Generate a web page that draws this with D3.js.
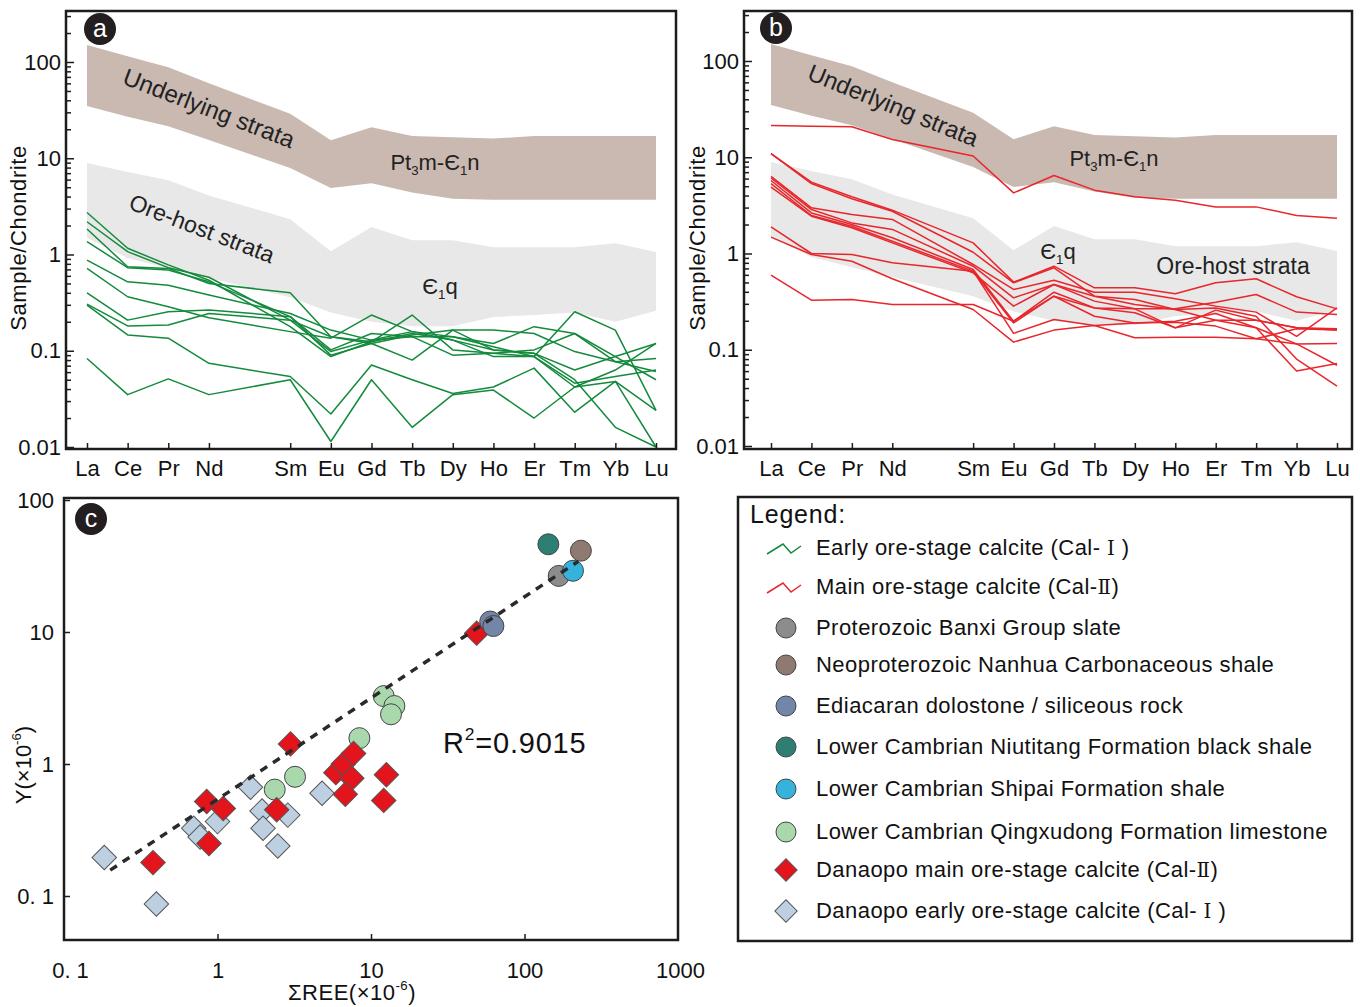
<!DOCTYPE html>
<html>
<head>
<meta charset="utf-8">
<script src="https://cdn.jsdelivr.net/npm/d3@7"></script>
<style>
body { margin: 0; background: #fff; }
svg { font-family: "Liberation Sans", Arial, sans-serif; }
</style>
</head>
<body>
<svg width="1360" height="1007"></svg>
<script>
// REE order (Pm kept as an empty slot on the axis)
var ree = ['La','Ce','Pr','Nd','Pm','Sm','Eu','Gd','Tb','Dy','Ho','Er','Tm','Yb','Lu'];
var reeUsed = ree.filter(function (d) { return d !== 'Pm'; });

// reference fields (chondrite normalised)
var underlyingTop = [150,115,88,60,29,15.4,21,17,16.5,16,17,17,17,17];
var underlyingBot = [35,27,21.5,15.5,7.9,4.9,5.5,4.4,3.8,3.7,3.7,3.7,3.7,3.7];
var hostTop = [8.9,7.2,5.9,4.1,2.33,1.08,1.93,1.41,1.41,1.19,1.19,1.19,1.31,1.06];
var hostBot = [1.48,0.92,0.72,0.57,0.36,0.25,0.2,0.18,0.18,0.224,0.235,0.25,0.2,0.26];

// Cal-I calcite profiles (panel a)
var calIProfiles = [
  [2.73,1.16,0.78,0.54,0.178,0.087,0.124,0.151,0.129,0.102,0.094,0.050,0.016,0.010],
  [2.19,1.07,0.73,0.58,0.208,0.098,0.129,0.158,0.14,0.11,0.087,0.042,0.063,0.119],
  [1.84,0.746,0.717,0.50,0.40,0.14,0.119,0.146,0.164,0.164,0.151,0.098,0.077,0.083],
  [1.36,0.73,0.69,0.52,0.226,0.102,0.151,0.14,0.09,0.094,0.102,0.151,0.087,0.05],
  [0.875,0.52,0.48,0.38,0.244,0.164,0.129,0.14,0.14,0.119,0.178,0.151,0.077,0.061],
  [0.717,0.364,0.287,0.22,0.158,0.135,0.235,0.158,0.129,0.087,0.087,0.254,0.164,0.024],
  [0.40,0.208,0.254,0.265,0.226,0.09,0.119,0.08,0.164,0.102,0.094,0.063,0.087,0.119],
  [0.305,0.181,0.185,0.244,0.208,0.14,0.124,0.235,0.102,0.094,0.087,0.046,0.054,0.063],
  [0.298,0.146,0.135,0.074,0.054,0.022,0.071,0.05,0.036,0.042,0.066,0.023,0.048,0.010],
  [0.083,0.035,0.051,0.035,0.05,0.0114,0.05,0.016,0.035,0.039,0.020,0.042,0.048,0.024]
];

// Cal-II calcite profiles (panel b)
var calIIProfiles = [
  [21.4,21,20.7,15.3,10.3,4.26,6.46,4.55,3.88,3.58,3.05,3.05,2.48,2.33],
  [10.9,5.51,3.88,2.82,1.29,0.504,0.738,0.44,0.44,0.381,0.496,0.546,0.355,0.266],
  [10.9,5.33,3.70,2.75,1.03,0.496,0.71,0.36,0.333,0.262,0.272,0.223,0.08,0.042],
  [6.35,2.98,2.54,2.26,0.769,0.423,0.528,0.396,0.396,0.338,0.284,0.246,0.138,0.272],
  [6.11,2.86,2.08,1.78,0.738,0.346,0.476,0.32,0.266,0.266,0.312,0.375,0.246,0.232],
  [5.73,2.64,2.0,1.46,0.682,0.198,0.396,0.272,0.242,0.169,0.258,0.203,0.169,0.165],
  [5.33,2.48,1.92,1.34,0.655,0.19,0.36,0.223,0.19,0.198,0.238,0.169,0.06,0.072],
  [4.89,2.44,1.85,1.29,0.629,0.284,0.476,0.36,0.295,0.262,0.203,0.169,0.115,0.069],
  [1.89,1.0,0.977,0.80,0.655,0.148,0.206,0.179,0.19,0.193,0.176,0.13,0.165,0.16],
  [1.48,0.977,0.832,0.546,0.262,0.12,0.16,0.179,0.133,0.135,0.135,0.13,0.115,0.116],
  [0.596,0.327,0.333,0.295,0.295,0.198,0.36,0.272,0.266,0.169,0.203,0.203,0.169,0.16]
];

// panel c: sum REE vs Y (x10^-6)
var calISumREE = [0.183,0.40,0.70,0.77,1.0,1.64,1.95,1.98,2.87,2.47,4.8];
var calIY      = [0.196,0.087,0.326,0.28,0.366,0.666,0.44,0.326,0.41,0.239,0.6];
var calIISumREE = [0.38,0.85,1.09,0.88,2.43,2.99,5.9,6.6,7.7,7.5,6.8,12.6,12.1,48.8];
var calIIY      = [0.179,0.52,0.46,0.25,0.45,1.42,0.86,1.0,1.2,0.78,0.59,0.83,0.53,9.8];
var qingxudongSumREE = [12.1,14.2,13.5,8.4,3.2,2.36];
var qingxudongY      = [3.27,2.75,2.38,1.57,0.80,0.64];
var banxiSumREE = [167], banxiY = [26.6];
var nanhuaSumREE = [233], nanhuaY = [41.3];
var ediacaranSumREE = [59.8,62.7], ediacaranY = [12,11.1];
var niutitangSumREE = [143], niutitangY = [46.2];
var shipaiSumREE = [207], shipaiY = [29.1];
var fitCoef = 0.54, fitExp = 0.767, fitRange = [0.2, 245];

var svg = d3.select('svg');
var frameColor = '#1c1c1c';

// text with sub/superscripts: parts = [{t}, {sub}, {sup}, {roman}]
function richText(t, parts, shift) {
  var cur = 0;
  parts.forEach(function (p) {
    var target = p.sub ? shift : (p.sup ? -shift * 1.6 : 0);
    var ts = t.append('tspan').attr('dy', target - cur);
    cur = target;
    if (p.sub || p.sup) ts.attr('font-size', '0.6em').text(p.sub || p.sup);
    else if (p.roman) ts.attr('font-family', '"DejaVu Serif", serif').attr('font-size', '0.9em').text(p.roman);
    else ts.text(p.t);
  });
}

function panelLetter(cx, cy, letter) {
  svg.append('circle').attr('cx', cx).attr('cy', cy).attr('r', 16).attr('fill', '#231f20');
  svg.append('text').attr('x', cx).attr('y', cy + 8).attr('text-anchor', 'middle')
    .attr('fill', '#fff').attr('font-size', 25).text(letter);
}

function reePanel(cfg) {
  var g = svg.append('g');
  var x = d3.scalePoint().domain(ree).range(cfg.xr);
  var y = d3.scaleLog().domain([0.01, 100]).range(cfg.yr);
  var band = function (hi, lo) {
    return reeUsed.map(function (el, i) { return {el: el, hi: hi[i], lo: lo[i]}; });
  };
  var area = d3.area().x(function (d) { return x(d.el); })
    .y0(function (d) { return y(d.lo); }).y1(function (d) { return y(d.hi); });
  g.append('path').datum(band(underlyingTop, underlyingBot)).attr('d', area).attr('fill', '#c9b9b1');
  g.append('path').datum(band(hostTop, hostBot)).attr('d', area).attr('fill', '#e8e8e8');

  // field labels
  var lab = cfg.labels;
  g.append('text').attr('transform', 'translate(' + lab.under[0] + ',' + lab.under[1] + ') rotate(' + lab.under[2] + ')')
    .attr('text-anchor', 'middle').attr('font-size', 24).attr('fill', '#222').text('Underlying strata');
  var t1 = g.append('text').attr('x', lab.pt[0]).attr('y', lab.pt[1]).attr('text-anchor', 'middle')
    .attr('font-size', 22).attr('fill', '#222');
  richText(t1, [{t: 'Pt'}, {sub: '3'}, {t: 'm-Є'}, {sub: '1'}, {t: 'n'}], 5);
  g.append('text').attr('transform', 'translate(' + lab.host[0] + ',' + lab.host[1] + ') rotate(' + lab.host[2] + ')')
    .attr('text-anchor', 'middle').attr('font-size', 23).attr('fill', '#222').text('Ore-host strata');
  var t2 = g.append('text').attr('x', lab.eq[0]).attr('y', lab.eq[1]).attr('text-anchor', 'middle')
    .attr('font-size', 22).attr('fill', '#222');
  richText(t2, [{t: 'Є'}, {sub: '1'}, {t: 'q'}], 5);

  var line = d3.line().x(function (d) { return x(d.el); }).y(function (d) { return y(d.v); });
  g.selectAll('.prof').data(cfg.profiles).enter().append('path')
    .attr('d', function (p) { return line(reeUsed.map(function (el, i) { return {el: el, v: p[i]}; })); })
    .attr('fill', 'none').attr('stroke', cfg.color).attr('stroke-width', 1.5).attr('stroke-linejoin', 'round');

  // frame
  g.append('rect').attr('x', cfg.box[0]).attr('y', cfg.box[1])
    .attr('width', cfg.box[2] - cfg.box[0]).attr('height', cfg.box[3] - cfg.box[1])
    .attr('fill', 'none').attr('stroke', frameColor).attr('stroke-width', 2.5);

  // y axis (log, inward ticks)
  var yt = [];
  [0.01, 0.1, 1, 10, 100].forEach(function (d) {
    for (var k = 1; k <= 9; k++) { if (d * k <= 300) yt.push(+(d * k).toPrecision(2)); }
  });
  var major = [0.01, 0.1, 1, 10, 100];
  var ya = g.append('g').attr('transform', 'translate(' + cfg.box[0] + ',0)')
    .call(d3.axisLeft(y).tickValues(yt).tickSizeInner(-8).tickSizeOuter(0).tickPadding(5)
      .tickFormat(function (d) { return major.indexOf(d) >= 0 ? String(d) : ''; }));
  ya.select('.domain').remove();
  ya.selectAll('.tick line').attr('stroke', frameColor).attr('stroke-width', 1.5)
    .attr('x2', function (d) { return major.indexOf(d) >= 0 ? 8 : 5; });
  ya.selectAll('.tick text').attr('font-size', 22).attr('fill', '#111').attr('font-family', null);

  // x axis
  var xa = g.append('g').attr('transform', 'translate(0,' + cfg.box[3] + ')')
    .call(d3.axisBottom(x).tickValues(reeUsed).tickSizeInner(-6).tickSizeOuter(0).tickPadding(11));
  xa.select('.domain').remove();
  xa.selectAll('.tick line').attr('stroke', frameColor).attr('stroke-width', 1.5);
  xa.selectAll('.tick text').attr('font-size', 22).attr('fill', '#111').attr('font-family', null);

  svg.append('text').attr('transform', 'translate(' + cfg.ylab[0] + ',' + cfg.ylab[1] + ') rotate(-90)')
    .attr('text-anchor', 'middle').attr('font-size', 22).attr('letter-spacing', 0.6)
    .attr('fill', '#111').text('Sample/Chondrite');
  panelLetter(cfg.letter[0], cfg.letter[1], cfg.letter[2]);
}

reePanel({
  box: [66, 11, 676, 449], xr: [87, 656], yr: [447, 62],
  profiles: calIProfiles, color: '#138a3c',
  labels: {under: [206, 116, 21], pt: [435, 170], host: [199, 236, 21], eq: [440, 294]},
  ylab: [26, 238], letter: [100, 29, 'a']
});
reePanel({
  box: [744, 11, 1352, 449], xr: [771, 1337], yr: [446, 61],
  profiles: calIIProfiles, color: '#e8262b',
  labels: {under: [890, 113, 22], pt: [1114, 166], host: [1233, 274, 0], eq: [1058, 259]},
  ylab: [705, 238], letter: [776, 28, 'b']
});

// ---------- panel c ----------
var cx = d3.scaleLog().domain([0.1, 1000]).range([64, 678]);
var cy = d3.scaleLog().domain([0.1, 100]).range([896, 500]);
var gc = svg.append('g');

function pts(xs, ys) { return xs.map(function (v, i) { return {x: v, y: ys[i]}; }); }
var diamond = d3.symbol().type(d3.symbolSquare).size(300);

function drawDiamonds(data, fill) {
  gc.selectAll(null).data(data).enter().append('path')
    .attr('d', diamond)
    .attr('transform', function (d) { return 'translate(' + cx(d.x) + ',' + cy(d.y) + ') rotate(45)'; })
    .attr('fill', fill).attr('stroke', '#555').attr('stroke-width', 1);
}
function drawCircles(data, fill) {
  gc.selectAll(null).data(data).enter().append('circle')
    .attr('cx', function (d) { return cx(d.x); }).attr('cy', function (d) { return cy(d.y); })
    .attr('r', 10.5).attr('fill', fill).attr('stroke', '#444').attr('stroke-width', 1);
}

var colors = {
  banxi: '#8c8c8c', nanhua: '#8e7a70', ediacaran: '#7486a8', niutitang: '#2f7e73',
  shipai: '#36b3dc', qingxudong: '#a9d8ac', calII: '#e3141c', calI: '#bdd0e2'
};

drawDiamonds(pts(calISumREE, calIY), colors.calI);
drawCircles(pts(qingxudongSumREE, qingxudongY), colors.qingxudong);
drawDiamonds(pts(calIISumREE, calIIY), colors.calII);
drawCircles(pts(niutitangSumREE, niutitangY), colors.niutitang);
drawCircles(pts(nanhuaSumREE, nanhuaY), colors.nanhua);
drawCircles(pts(banxiSumREE, banxiY), colors.banxi);
drawCircles(pts(shipaiSumREE, shipaiY), colors.shipai);
drawCircles(pts(ediacaranSumREE, ediacaranY), colors.ediacaran);

// power-law fit line
var fitX = d3.range(Math.log10(fitRange[0]), Math.log10(fitRange[1]) + 0.001, 0.05)
  .map(function (l) { return Math.pow(10, l); });
gc.append('path')
  .datum(fitX.map(function (v) { return {x: v, y: fitCoef * Math.pow(v, fitExp)}; }))
  .attr('d', d3.line().x(function (d) { return cx(d.x); }).y(function (d) { return cy(d.y); }))
  .attr('fill', 'none').attr('stroke', '#2a2a2a').attr('stroke-width', 3.5).attr('stroke-dasharray', '8,7');

var rt = gc.append('text').attr('x', 443).attr('y', 753).attr('font-size', 29)
  .attr('letter-spacing', 0.8).attr('fill', '#111');
richText(rt, [{t: 'R'}, {sup: '2'}, {t: '=0.9015'}], 8);

gc.append('rect').attr('x', 64).attr('y', 498).attr('width', 614).attr('height', 442)
  .attr('fill', 'none').attr('stroke', frameColor).attr('stroke-width', 2.5);

var fmtC = function (d) { return d === 0.1 ? '0. 1' : String(d); };
var cxa = gc.append('g').attr('transform', 'translate(0,940)')
  .call(d3.axisBottom(cx).tickValues([1, 10, 100]).tickSizeInner(-6).tickSizeOuter(0)
    .tickPadding(22).tickFormat(fmtC));
cxa.select('.domain').remove();
cxa.selectAll('.tick line').attr('stroke', frameColor).attr('stroke-width', 1.5);
cxa.selectAll('.tick text').attr('font-size', 22).attr('fill', '#111').attr('font-family', null);
// end labels of the x range sit on the frame corners
var cxe = gc.append('g').attr('transform', 'translate(0,940)')
  .call(d3.axisBottom(cx).tickValues([0.1, 1000]).tickSize(0).tickPadding(22).tickFormat(fmtC));
cxe.select('.domain').remove();
cxe.selectAll('.tick text').attr('font-size', 22).attr('fill', '#111').attr('font-family', null)
  .attr('dx', function (d) { return d === 0.1 ? 6 : 2; });

var cya = gc.append('g').attr('transform', 'translate(64,0)')
  .call(d3.axisLeft(cy).tickValues([0.1, 1, 10, 100]).tickSizeInner(-6).tickSizeOuter(0)
    .tickPadding(10).tickFormat(fmtC));
cya.select('.domain').remove();
cya.selectAll('.tick line').attr('stroke', frameColor).attr('stroke-width', 1.5);
cya.selectAll('.tick text').attr('font-size', 22).attr('fill', '#111').attr('font-family', null);

var xl = gc.append('text').attr('x', 352).attr('y', 1000).attr('text-anchor', 'middle')
  .attr('font-size', 22).attr('letter-spacing', 0.5).attr('fill', '#111');
richText(xl, [{t: 'ΣREE(×10'}, {sup: '-6'}, {t: ')'}], 6);

var yl = gc.append('text').attr('transform', 'translate(31,765) rotate(-90)').attr('text-anchor', 'middle')
  .attr('font-size', 22).attr('fill', '#111');
richText(yl, [{t: 'Y(×10'}, {sup: '-6'}, {t: ')'}], 6);

panelLetter(91, 519, 'c');

// ---------- legend ----------
var legendItems = [
  {type: 'line', color: '#138a3c', label: 'Early ore-stage calcite (Cal-', num: 'Ⅰ', end: ' )'},
  {type: 'line', color: '#e8262b', label: 'Main ore-stage calcite (Cal-', num: 'Ⅱ', end: ')'},
  {type: 'circle', color: colors.banxi, label: 'Proterozoic Banxi Group slate'},
  {type: 'circle', color: colors.nanhua, label: 'Neoproterozoic Nanhua Carbonaceous shale'},
  {type: 'circle', color: colors.ediacaran, label: 'Ediacaran dolostone / siliceous rock'},
  {type: 'circle', color: colors.niutitang, label: 'Lower Cambrian Niutitang Formation black shale'},
  {type: 'circle', color: colors.shipai, label: 'Lower Cambrian Shipai Formation shale'},
  {type: 'circle', color: colors.qingxudong, label: 'Lower Cambrian Qingxudong Formation limestone'},
  {type: 'diamond', color: colors.calII, label: 'Danaopo main ore-stage calcite (Cal-', num: 'Ⅱ', end: ')'},
  {type: 'diamond', color: colors.calI, label: 'Danaopo early ore-stage calcite (Cal-', num: 'Ⅰ', end: ' )'}
];
var legendY = [548, 587, 628, 665, 706, 747, 789, 832, 870, 911];

var gl = svg.append('g');
gl.append('rect').attr('x', 738).attr('y', 497).attr('width', 614).attr('height', 444)
  .attr('fill', 'none').attr('stroke', frameColor).attr('stroke-width', 2.5);
gl.append('text').attr('x', 750).attr('y', 523).attr('font-size', 25).attr('letter-spacing', 0.8)
  .attr('fill', '#111').text('Legend:');

var zig = [[-19, 6], [-3, -4], [5, 5], [15, -2]];
var items = gl.selectAll('.li').data(legendItems).enter().append('g')
  .attr('transform', function (d, i) { return 'translate(786,' + legendY[i] + ')'; });
items.each(function (d) {
  var s = d3.select(this);
  if (d.type === 'line') {
    s.append('path').attr('d', d3.line()(zig)).attr('fill', 'none')
      .attr('stroke', d.color).attr('stroke-width', 1.5);
  } else if (d.type === 'circle') {
    s.append('circle').attr('r', 10).attr('fill', d.color).attr('stroke', '#444').attr('stroke-width', 1);
  } else {
    s.append('path').attr('d', d3.symbol().type(d3.symbolSquare).size(250)).attr('transform', 'rotate(45)')
      .attr('fill', d.color).attr('stroke', '#555').attr('stroke-width', 1);
  }
  var t = s.append('text').attr('x', 30).attr('y', 7).attr('font-size', 22).attr('letter-spacing', 0.45)
    .attr('fill', '#111');
  if (d.num) {
    richText(t, [{t: d.label + (d.num === 'Ⅰ' ? ' ' : '')}, {roman: d.num}, {t: d.end}], 0);
  } else {
    t.text(d.label);
  }
});
</script>
</body>
</html>
